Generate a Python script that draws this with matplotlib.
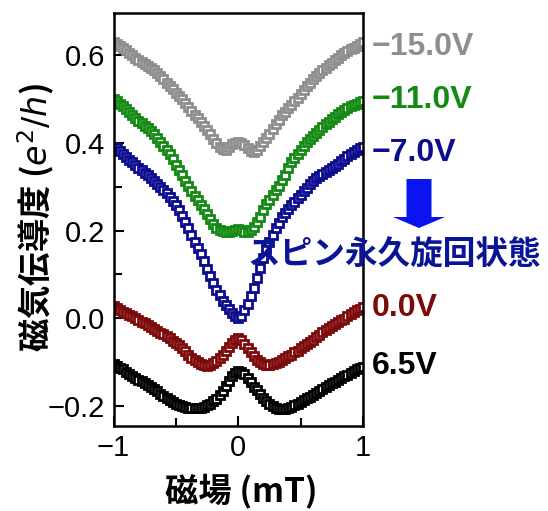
import numpy as np
import matplotlib
matplotlib.use("Agg")
import matplotlib.pyplot as plt
from matplotlib.patches import Polygon
from matplotlib.ticker import MultipleLocator

plt.rcParams['font.family'] = ['Liberation Sans', 'Noto Sans CJK JP', 'DejaVu Sans']
plt.rcParams['mathtext.fontset'] = 'dejavusans'

field = np.linspace(-1.0, 1.0, 81)

g_m15 = [0.630, 0.627, 0.622, 0.617, 0.612, 0.606, 0.600, 0.595, 0.590, 0.585,
         0.580, 0.576, 0.572, 0.566, 0.560, 0.553, 0.546, 0.538, 0.530, 0.523,
         0.515, 0.508, 0.500, 0.492, 0.483, 0.474, 0.465, 0.457, 0.449, 0.440,
         0.430, 0.420, 0.410, 0.400, 0.392, 0.386, 0.384, 0.390, 0.397, 0.401,
         0.402, 0.400, 0.395, 0.388, 0.381, 0.379, 0.385, 0.393, 0.402, 0.411,
         0.420, 0.432, 0.443, 0.453, 0.463, 0.472, 0.480, 0.488, 0.496, 0.504,
         0.513, 0.521, 0.530, 0.538, 0.546, 0.553, 0.560, 0.566, 0.572, 0.578,
         0.583, 0.589, 0.595, 0.601, 0.606, 0.610, 0.614, 0.618, 0.622, 0.626,
         0.630]

g_m11 = [0.500, 0.496, 0.490, 0.484, 0.477, 0.470, 0.463, 0.457, 0.451, 0.445,
         0.440, 0.434, 0.428, 0.420, 0.411, 0.402, 0.393, 0.384, 0.375, 0.363,
         0.350, 0.338, 0.326, 0.314, 0.302, 0.290, 0.279, 0.269, 0.259, 0.249,
         0.238, 0.227, 0.216, 0.207, 0.201, 0.199, 0.198, 0.198, 0.200, 0.202,
         0.203, 0.201, 0.198, 0.198, 0.201, 0.208, 0.219, 0.232, 0.247, 0.260,
         0.271, 0.282, 0.292, 0.303, 0.315, 0.328, 0.343, 0.357, 0.367, 0.376,
         0.385, 0.394, 0.402, 0.409, 0.416, 0.423, 0.430, 0.437, 0.443, 0.449,
         0.455, 0.460, 0.466, 0.471, 0.476, 0.480, 0.484, 0.487, 0.490, 0.493,
         0.496]

g_m7 = [0.392, 0.388, 0.382, 0.375, 0.369, 0.362, 0.356, 0.350, 0.344, 0.338,
        0.332, 0.326, 0.320, 0.313, 0.306, 0.299, 0.292, 0.285, 0.277, 0.268,
        0.258, 0.247, 0.234, 0.220, 0.205, 0.190, 0.174, 0.160, 0.146, 0.130,
        0.113, 0.097, 0.080, 0.065, 0.052, 0.040, 0.030, 0.020, 0.011, 0.004,
        0.001, 0.006, 0.018, 0.033, 0.050, 0.070, 0.092, 0.115, 0.137, 0.157,
        0.175, 0.191, 0.205, 0.218, 0.230, 0.241, 0.250, 0.258, 0.266, 0.274,
        0.282, 0.290, 0.298, 0.306, 0.313, 0.320, 0.325, 0.330, 0.335, 0.339,
        0.343, 0.348, 0.353, 0.358, 0.364, 0.370, 0.375, 0.380, 0.385, 0.389,
        0.392]

g_0 = [0.027, 0.023, 0.019, 0.015, 0.011, 0.007, 0.004, 0.000, -0.004, -0.008,
       -0.012, -0.016, -0.021, -0.025, -0.029, -0.033, -0.037, -0.041, -0.046, -0.051,
       -0.056, -0.062, -0.068, -0.075, -0.083, -0.090, -0.096, -0.101, -0.105, -0.107,
       -0.108, -0.106, -0.103, -0.098, -0.091, -0.083, -0.075, -0.066, -0.057, -0.050,
       -0.046, -0.050, -0.058, -0.068, -0.078, -0.087, -0.095, -0.101, -0.105, -0.107,
       -0.107, -0.105, -0.102, -0.099, -0.095, -0.091, -0.087, -0.083, -0.078, -0.074,
       -0.069, -0.064, -0.059, -0.054, -0.049, -0.044, -0.038, -0.032, -0.027, -0.022,
       -0.018, -0.013, -0.009, -0.005, -0.001, 0.004, 0.009, 0.014, 0.018, 0.022,
       0.026]

g_p65 = [-0.105, -0.109, -0.113, -0.117, -0.122, -0.127, -0.132, -0.136, -0.140, -0.144,
         -0.148, -0.152, -0.157, -0.162, -0.167, -0.172, -0.177, -0.182, -0.187, -0.191,
         -0.195, -0.198, -0.201, -0.203, -0.204, -0.205, -0.205, -0.205, -0.204, -0.202,
         -0.199, -0.195, -0.190, -0.184, -0.176, -0.166, -0.155, -0.143, -0.132, -0.124,
         -0.121, -0.123, -0.128, -0.136, -0.146, -0.156, -0.165, -0.174, -0.182, -0.189,
         -0.195, -0.200, -0.204, -0.207, -0.208, -0.207, -0.205, -0.202, -0.199, -0.195,
         -0.191, -0.187, -0.183, -0.179, -0.175, -0.171, -0.166, -0.162, -0.157, -0.153,
         -0.149, -0.145, -0.141, -0.137, -0.133, -0.129, -0.125, -0.121, -0.117, -0.114,
         -0.111]

series = [g_m15, g_m11, g_m7, g_0, g_p65]
labels = ["\u221215.0V", "\u221211.0V", "\u22127.0V", "0.0V", "6.5V"]
colors = ["#8e8e8e", "#148a14", "#0c0c8e", "#7d0a0a", "#000000"]
label_y_px = [47, 100, 153, 308, 366]

W, H = 548, 511
fig = plt.figure(figsize=(W / 100, H / 100), dpi=100)
ax = fig.add_axes([113.5 / W, 1 - 425.5 / H, (363 - 113.5) / W, (425.5 - 13) / H])

for vals, c in zip(series, colors):
    ax.plot(field, vals, linestyle='none', marker='s', markersize=5.6,
            markerfacecolor='white', markeredgecolor=c, markeredgewidth=2.0)

ax.set_xlim(-1, 1)
ax.set_ylim(-0.245, 0.697)
ax.set_xticks([-1, 0, 1])
ax.set_xticklabels(["\u22121", "0", "1"])
ax.xaxis.set_minor_locator(MultipleLocator(0.5))
ax.set_yticks([-0.2, 0.0, 0.2, 0.4, 0.6])
ax.set_yticklabels(["\u22120.2", "0.0", "0.2", "0.4", "0.6"])
ax.yaxis.set_minor_locator(MultipleLocator(0.1))
ax.tick_params(which='both', direction='in', width=1.5, top=False, right=False)
ax.tick_params(which='major', length=7, labelsize=21, pad=6)
ax.tick_params(which='minor', length=6)
for s in ax.spines.values():
    s.set_linewidth(1.8)

ax.set_xlabel("磁場 (mT)", fontsize=24, fontweight='bold',
              family=['Noto Sans CJK JP', 'DejaVu Sans'], va='center')
ax.xaxis.set_label_coords((241 - 113.5) / 249.5, (425.5 - 491) / 412.5)
ax.set_ylabel("磁気伝導度 ($e^2/h$)", fontsize=24, fontweight='bold',
              family=['Noto Sans CJK JP', 'DejaVu Sans'], va='center')
ax.yaxis.set_label_coords((36 - 113.5) / 249.5, (425.5 - 218) / 412.5)

for lab, c, ypx in zip(labels, colors, label_y_px):
    fig.text(372 / W, 1 - ypx / H, lab, color=c, fontsize=23, fontweight='bold',
             ha='left', va='center')

# arrow (pixel geometry converted to figure fraction)
cx, top, neck, tip = 419, 179, 217, 228
sw, hw = 12.5, 26
pts_px = [(cx - sw, top), (cx + sw, top), (cx + sw, neck), (cx + hw, neck),
          (cx, tip), (cx - hw, neck), (cx - sw, neck)]
pts = [(x / W, 1 - y / H) for x, y in pts_px]
fig.patches.append(Polygon(pts, closed=True, facecolor='#0a14f0', edgecolor='none',
                           transform=fig.transFigure, figure=fig))

fig.text(394 / W, 1 - 254 / H, "スピン永久旋回状態", color='#0a1496', fontsize=23.5,
         fontweight='bold', ha='center', va='center',
         family=['Noto Sans CJK JP', 'DejaVu Sans'])

fig.savefig("out.png", dpi=100)
